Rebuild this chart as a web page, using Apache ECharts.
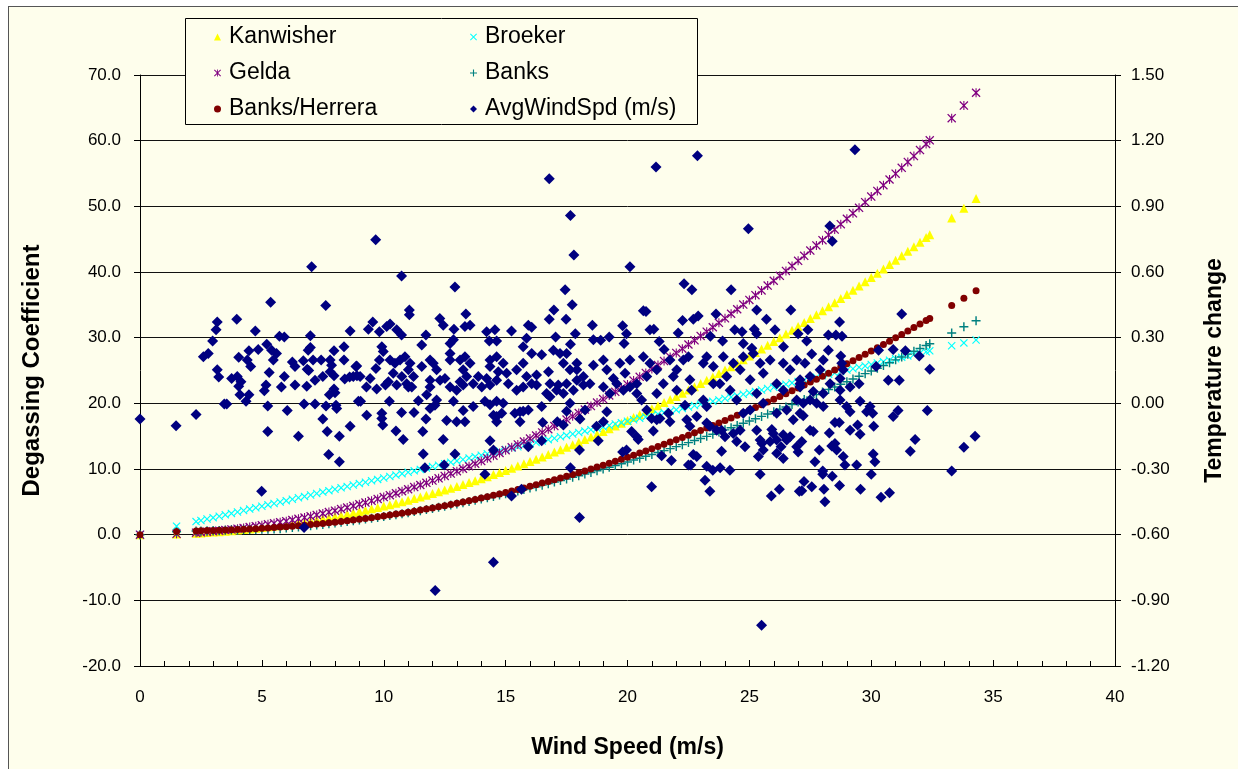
<!DOCTYPE html>
<html>
<head>
<meta charset="utf-8">
<title>Degassing Coefficient vs Wind Speed</title>
<script src="https://cdn.jsdelivr.net/npm/echarts/dist/echarts.min.js"></script>
<style>
  html, body { margin: 0; padding: 0; background: #ffffff; width: 1238px; height: 769px; overflow: hidden; }
  #frame { position: absolute; left: 8px; top: 6px; width: 1240px; height: 780px; background: #FEFEEC;
           border-left: 1px solid #555; border-top: 1px solid #555; }
  #chart { position: absolute; left: 0; top: 0; width: 1238px; height: 769px; }
</style>
</head>
<body>
<div id="frame"></div>
<div id="chart"></div>
<script>
// Wind speeds (m/s) at which the degassing formulas are tabulated
const windGrid = [0, 1.5, 2.3, 2.5, 2.75,
  3, 3.25, 3.5, 3.75,  4, 4.25, 4.5, 4.75,  5, 5.25, 5.5, 5.75,  6, 6.25, 6.5, 6.75,
  7, 7.25, 7.5, 7.75,  8, 8.25, 8.5, 8.75,  9, 9.25, 9.5, 9.75,  10, 10.25, 10.5, 10.75,
  11, 11.25, 11.5, 11.75,  12, 12.25, 12.5, 12.75,  13, 13.25, 13.5, 13.75,  14, 14.25, 14.5, 14.75,
  15, 15.25, 15.5, 15.75,  16, 16.25, 16.5, 16.75,  17, 17.25, 17.5, 17.75,  18, 18.25, 18.5, 18.75,
  19, 19.25, 19.5, 19.75,  20, 20.25, 20.5, 20.75,  21, 21.25, 21.5, 21.75,  22, 22.25, 22.5, 22.75,
  23, 23.25, 23.5, 23.75,  24, 24.25, 24.5, 24.75,  25, 25.25, 25.5, 25.75,  26, 26.25, 26.5, 26.75,
  27, 27.25, 27.5, 27.75,  28, 28.25, 28.5, 28.75,  29, 29.25, 29.5, 29.75,  30, 30.25, 30.5, 30.75,
  31, 31.25, 31.5, 31.75,  32, 32.25, 32.4, 33.3, 33.8, 34.3];

// Degassing coefficient by formula, one value per wind speed above
const kanwisher = [0, 0.10, 0.23, 0.27, 0.33,
  0.39, 0.46, 0.53, 0.61,  0.70, 0.79, 0.88, 0.98,  1.09, 1.20, 1.32, 1.44,  1.57, 1.70, 1.84, 1.98,
  2.13, 2.29, 2.45, 2.61,  2.78, 2.96, 3.14, 3.33,  3.52, 3.72, 3.93, 4.14,  4.35, 4.57, 4.80, 5.03,
  5.26, 5.51, 5.75, 6.01,  6.26, 6.53, 6.80, 7.07,  7.35, 7.64, 7.93, 8.22,  8.53, 8.83, 9.15, 9.46,
  9.79, 10.12, 10.45, 10.79,  11.14, 11.49, 11.84, 12.20,  12.57, 12.94, 13.32, 13.71,  14.09, 14.49, 14.89, 15.29,
  15.70, 16.12, 16.54, 16.97,  17.40, 17.84, 18.28, 18.73,  19.18, 19.64, 20.11, 20.58,  21.05, 21.54, 22.02, 22.51,
  23.01, 23.51, 24.02, 24.54,  25.06, 25.58, 26.11, 26.65,  27.19, 27.73, 28.29, 28.84,  29.41, 29.97, 30.55, 31.13,
  31.71, 32.30, 32.90, 33.50,  34.10, 34.72, 35.33, 35.96,  36.58, 37.22, 37.86, 38.50,  39.15, 39.81, 40.47, 41.13,
  41.80, 42.48, 43.16, 43.85,  44.54, 45.24, 45.66, 48.24, 49.70, 51.18];

const broeker = [0, 1.30, 1.99, 2.16, 2.38,
  2.59, 2.81, 3.02, 3.24,  3.46, 3.67, 3.89, 4.10,  4.32, 4.54, 4.75, 4.97,  5.18, 5.40, 5.62, 5.83,
  6.05, 6.26, 6.48, 6.70,  6.91, 7.13, 7.34, 7.56,  7.78, 7.99, 8.21, 8.42,  8.64, 8.86, 9.07, 9.29,
  9.50, 9.72, 9.94, 10.15,  10.37, 10.58, 10.80, 11.02,  11.23, 11.45, 11.66, 11.88,  12.10, 12.31, 12.53, 12.74,
  12.96, 13.18, 13.39, 13.61,  13.82, 14.04, 14.26, 14.47,  14.69, 14.90, 15.12, 15.34,  15.55, 15.77, 15.98, 16.20,
  16.42, 16.63, 16.85, 17.06,  17.28, 17.50, 17.71, 17.93,  18.14, 18.36, 18.58, 18.79,  19.01, 19.22, 19.44, 19.66,
  19.87, 20.09, 20.30, 20.52,  20.74, 20.95, 21.17, 21.38,  21.60, 21.82, 22.03, 22.25,  22.46, 22.68, 22.90, 23.11,
  23.33, 23.54, 23.76, 23.98,  24.19, 24.41, 24.62, 24.84,  25.06, 25.27, 25.49, 25.70,  25.92, 26.14, 26.35, 26.57,
  26.78, 27.00, 27.22, 27.43,  27.65, 27.86, 27.99, 28.77, 29.20, 29.64];

const gelda = [0, 0.13, 0.30, 0.36, 0.43,
  0.51, 0.60, 0.70, 0.80,  0.92, 1.03, 1.16, 1.29,  1.43, 1.58, 1.73, 1.89,  2.06, 2.23, 2.42, 2.61,
  2.80, 3.01, 3.22, 3.44,  3.66, 3.89, 4.13, 4.38,  4.63, 4.89, 5.16, 5.44,  5.72, 6.01, 6.31, 6.61,
  6.92, 7.24, 7.56, 7.90,  8.24, 8.58, 8.94, 9.30,  9.67, 10.04, 10.42, 10.81,  11.21, 11.62, 12.03, 12.44,
  12.87, 13.30, 13.74, 14.19,  14.64, 15.10, 15.57, 16.05,  16.53, 17.02, 17.52, 18.02,  18.53, 19.05, 19.58, 20.11,
  20.65, 21.20, 21.75, 22.31,  22.88, 23.46, 24.04, 24.63,  25.23, 25.83, 26.44, 27.06,  27.68, 28.32, 28.96, 29.60,
  30.26, 30.92, 31.59, 32.26,  32.95, 33.64, 34.33, 35.04,  35.75, 36.47, 37.19, 37.93,  38.67, 39.41, 40.17, 40.93,
  41.70, 42.47, 43.26, 44.05,  44.84, 45.65, 46.46, 47.28,  48.11, 48.94, 49.78, 50.63,  51.48, 52.34, 53.21, 54.09,
  54.97, 55.86, 56.76, 57.66,  58.57, 59.49, 60.05, 63.43, 65.35, 67.30];

const banks = [0, 0.44, 0.55, 0.57, 0.60,
  0.63, 0.65, 0.68, 0.70,  0.72, 0.75, 0.77, 0.79,  0.81, 0.83, 0.85, 0.92,  1.00, 1.08, 1.17, 1.26,
  1.36, 1.46, 1.56, 1.66,  1.77, 1.89, 2.00, 2.12,  2.24, 2.37, 2.50, 2.63,  2.77, 2.91, 3.05, 3.20,
  3.35, 3.51, 3.66, 3.82,  3.99, 4.16, 4.33, 4.50,  4.68, 4.86, 5.05, 5.24,  5.43, 5.62, 5.82, 6.03,
  6.23, 6.44, 6.65, 6.87,  7.09, 7.31, 7.54, 7.77,  8.01, 8.24, 8.48, 8.73,  8.97, 9.23, 9.48, 9.74,
  10.00, 10.26, 10.53, 10.80,  11.08, 11.36, 11.64, 11.93,  12.22, 12.51, 12.80, 13.10,  13.41, 13.71, 14.02, 14.34,
  14.65, 14.97, 15.30, 15.62,  15.96, 16.29, 16.63, 16.97,  17.31, 17.66, 18.01, 18.37,  18.73, 19.09, 19.45, 19.82,
  20.19, 20.57, 20.95, 21.33,  21.72, 22.11, 22.50, 22.90,  23.30, 23.70, 24.11, 24.52,  24.93, 25.35, 25.77, 26.19,
  26.62, 27.05, 27.49, 27.92,  28.36, 28.81, 29.08, 30.72, 31.65, 32.59];

const banksHerrera = [0, 0.50, 0.57, 0.59, 0.62,
  0.64, 0.68, 0.71, 0.74,  0.78, 0.83, 0.87, 0.92,  0.97, 1.03, 1.09, 1.15,  1.22, 1.29, 1.37, 1.45,
  1.53, 1.62, 1.71, 1.80,  1.90, 2.01, 2.12, 2.23,  2.34, 2.47, 2.59, 2.72,  2.85, 2.99, 3.13, 3.28,
  3.43, 3.58, 3.74, 3.91,  4.07, 4.25, 4.42, 4.60,  4.79, 4.98, 5.18, 5.37,  5.58, 5.79, 6.00, 6.21,
  6.43, 6.66, 6.89, 7.12,  7.36, 7.61, 7.85, 8.11,  8.36, 8.62, 8.89, 9.16,  9.44, 9.71, 10.00, 10.29,
  10.58, 10.88, 11.18, 11.48,  11.80, 12.11, 12.43, 12.76,  13.08, 13.42, 13.76, 14.10,  14.45, 14.80, 15.15, 15.51,
  15.88, 16.25, 16.62, 17.00,  17.39, 17.77, 18.17, 18.56,  18.97, 19.37, 19.78, 20.20,  20.62, 21.04, 21.47, 21.90,
  22.34, 22.79, 23.23, 23.68,  24.14, 24.60, 25.07, 25.54,  26.01, 26.49, 26.98, 27.46,  27.96, 28.46, 28.96, 29.46,
  29.98, 30.49, 31.01, 31.54,  32.07, 32.60, 32.92, 34.90, 36.02, 37.16];

// Observed average wind speed (m/s) and the temperature change recorded with it
const avgWindSpd = [
  [0.00,-0.072],[1.48,-0.102],[2.30,-0.051],[2.60,0.213],[2.80,0.228],[2.98,0.285],[3.12,0.336],[3.17,0.372],
  [3.17,0.153],[3.23,0.120],[3.46,-0.003],[3.56,-0.003],[3.76,0.114],[3.97,0.384],[3.99,0.123],[4.05,0.210],
  [4.05,0.078],[4.10,0.039],[4.14,0.099],[4.35,0.009],[4.40,0.198],[4.47,0.240],[4.47,0.039],[4.54,0.168],
  [4.73,0.330],[4.85,0.246],[4.99,-0.402],[5.10,0.057],[5.17,0.084],[5.20,0.270],[5.24,-0.012],[5.24,-0.129],
  [5.30,0.141],[5.36,0.462],[5.40,0.243],[5.47,0.198],[5.60,0.228],[5.72,0.306],[5.80,0.075],[5.92,0.303],
  [5.92,0.123],[6.04,-0.033],[6.25,0.189],[6.36,0.168],[6.36,0.084],[6.50,-0.150],[6.70,0.195],[6.73,-0.003],
  [6.73,-0.567],[6.84,0.078],[6.86,0.156],[6.90,0.243],[6.92,0.150],[6.99,0.309],[6.99,0.255],[7.04,0.624],
  [7.10,0.198],[7.18,0.105],[7.18,-0.003],[7.43,0.198],[7.50,0.123],[7.50,-0.072],[7.62,0.447],[7.63,-0.012],
  [7.68,-0.129],[7.74,-0.234],[7.77,0.039],[7.80,0.198],[7.80,0.144],[7.86,0.174],[7.96,0.240],[7.96,0.126],
  [7.96,0.066],[8.00,0.048],[8.04,-0.009],[8.07,-0.024],[8.18,-0.150],[8.18,-0.267],[8.37,0.258],[8.37,0.198],
  [8.40,0.111],[8.60,0.120],[8.62,0.330],[8.62,-0.105],[8.86,0.168],[8.90,0.126],[8.96,0.009],
  [9.05,0.009],[9.30,-0.054],[9.37,0.339],[9.55,0.372],[9.67,0.747],[9.82,0.327],[9.92,-0.045],[9.92,-0.069],
  [9.96,-0.099],[10.12,0.351],[10.23,0.009],[10.26,0.363],[10.50,-0.126],[10.53,0.336],[10.73,0.582],[10.73,0.312],
  [10.73,-0.042],[10.80,-0.165],[11.05,0.426],[11.05,0.405],[11.24,-0.042],[11.42,0.012],[11.56,0.267],[11.60,-0.129],
  [11.62,-0.231],[11.69,-0.294],[11.73,0.312],[11.73,-0.072],[11.90,-0.024],[12.10,-0.009],[12.11,-0.855],[12.30,0.387],
  [12.44,0.357],[12.44,-0.165],[12.48,-0.282],[12.58,-0.078],[12.72,0.273],[12.86,0.291],[12.88,0.339],[12.92,0.531],
  [12.92,-0.231],[12.99,-0.084],[13.26,-0.033],[13.33,0.351],[13.33,-0.084],[13.37,0.408],[13.54,0.357],[13.67,-0.015],
  [14.15,0.009],[14.15,-0.324],[14.22,0.327],[14.33,0.285],[14.36,-0.006],[14.36,-0.171],[14.50,-0.054],[14.50,-0.213],
  [14.50,-0.726],[14.56,0.336],[14.63,0.285],[14.63,0.009],[14.63,-0.084],[14.84,-0.045],[14.90,0.000],[15.24,0.330],
  [15.24,-0.423],[15.38,-0.045],[15.59,-0.084],[15.65,-0.393],[15.72,0.258],[15.72,-0.036],[15.86,0.297],[15.93,0.357],
  [15.93,-0.030],[15.93,-0.198],[16.07,0.348],[16.48,-0.015],[16.48,-0.171],[16.52,-0.087],[16.79,1.026],[16.79,0.384],
  [16.98,0.426],[17.05,0.303],[17.12,-0.084],[17.37,-0.099],[17.44,0.519],[17.48,0.384],[17.50,-0.036],[17.64,0.000],
  [17.66,0.858],[17.66,0.270],[17.66,-0.294],[17.73,0.450],[17.80,0.678],[17.86,0.318],[18.03,-0.213],[18.03,-0.522],
  [8.89,0.171],[8.75,0.123],[9.03,0.123],[9.68,0.159],[9.44,0.114],[9.92,0.258],[9.98,0.237],[9.82,0.198],
  [10.26,0.198],[10.46,0.183],[10.67,0.198],[10.87,0.213],[11.08,0.183],[11.01,0.153],[10.74,0.123],[10.39,0.138],
  [10.19,0.099],[10.53,0.084],[10.94,0.090],[11.22,0.123],[11.15,0.075],[11.56,0.168],[11.90,0.198],[12.03,0.183],
  [12.17,0.153],[11.90,0.105],[12.31,0.105],[12.51,0.114],[12.72,0.228],[12.72,0.198],[13.13,0.198],[13.33,0.213],
  [13.54,0.183],[13.26,0.153],[13.40,0.123],[13.13,0.099],[13.67,0.090],[13.88,0.123],[14.36,0.198],[14.63,0.213],
  [14.90,0.183],[14.36,0.168],[14.70,0.144],[15.04,0.138],[14.22,0.114],[14.63,0.105],[15.11,0.090],[15.45,0.153],
  [15.72,0.183],[15.86,0.123],[16.07,0.090],[16.27,0.129],[16.07,0.228],[16.48,0.222],[16.76,0.144],[16.96,0.243],
  [17.23,0.228],[17.50,0.228],[17.37,0.183],[17.64,0.153],[17.92,0.183],[16.82,0.090],[17.16,0.084],[17.50,0.090],
  [17.92,0.105],[9.29,0.075],[9.71,0.066],[10.07,0.084],[11.01,0.075],[11.90,0.075],[12.72,0.075],[12.99,0.060],
  [13.26,0.084],[14.02,0.075],[14.36,0.084],[15.45,0.060],[15.72,0.075],[16.27,0.084],[11.76,0.039],[12.17,0.015],
  [12.86,0.009],[14.63,-0.060],[15.59,-0.039],[16.68,0.045],[16.82,0.030],[17.09,0.060],[17.37,0.045],
  [21.17,1.080],[22.87,1.131],[20.10,0.624],[24.96,0.798],[22.32,0.546],[22.64,0.519],[24.25,0.519],[20.65,0.423],
  [20.76,0.420],[18.56,0.357],[19.80,0.354],[19.96,0.318],[20.92,0.336],[21.08,0.339],[22.26,0.378],[22.70,0.384],
  [22.90,0.399],[23.63,0.408],[25.30,0.426],[25.70,0.384],[26.70,0.426],[24.40,0.336],[24.70,0.327],[25.20,0.339],
  [25.30,0.318],[26.05,0.336],[22.08,0.321],[18.60,0.291],[18.90,0.288],[19.25,0.303],[19.86,0.273],[21.30,0.282],
  [21.50,0.246],[23.40,0.306],[23.90,0.285],[26.40,0.258],[24.75,0.273],[25.10,0.252],
  [17.92,0.153],[18.19,0.123],[18.60,0.174],[19.01,0.198],[19.15,0.153],[19.42,0.114],[18.46,0.090],[19.01,0.075],
  [19.69,0.183],[19.90,0.138],[20.10,0.198],[20.38,0.090],[20.65,0.213],[20.92,0.183],[20.79,0.123],[21.20,0.153],
  [21.47,0.090],[21.74,0.198],[21.88,0.123],[22.02,0.153],[22.29,0.198],[22.56,0.108],[22.50,0.213],[23.11,0.183],
  [23.25,0.213],[23.52,0.168],[23.79,0.090],[23.93,0.213],[24.07,0.123],[24.34,0.183],[24.62,0.153],[24.75,0.213],
  [25.03,0.108],[25.16,0.228],[25.44,0.183],[25.57,0.138],[25.85,0.198],[26.12,0.090],[26.39,0.183],[26.67,0.153],
  [26.94,0.198],[27.08,0.108],
  [25.50,-1.014],[20.99,-0.381],[23.18,-0.351],[23.38,-0.402],[25.44,-0.324],[25.90,-0.423],[26.23,-0.393],[27.05,-0.402],
  [24.20,-0.306],[23.80,-0.294],[23.50,-0.306],[23.25,-0.288],[22.50,-0.282],[22.60,-0.282],[21.80,-0.261],[21.40,-0.240],
  [19.80,-0.222],[19.96,-0.213],[23.86,-0.219],[22.70,-0.234],[22.84,-0.243],[25.37,-0.243],[25.57,-0.213],[25.51,-0.183],
  [25.44,-0.168],[26.12,-0.228],[26.39,-0.252],[26.30,-0.198],[26.53,-0.168],[26.12,-0.168],[25.85,-0.174],[25.98,-0.138],
  [25.92,-0.120],[26.39,-0.144],[26.67,-0.153],[25.30,-0.123],[24.82,-0.198],[24.48,-0.174],[24.34,-0.138],[24.62,-0.123],
  [18.80,-0.171],[20.17,-0.129],[20.38,-0.153],[20.44,-0.165],[21.06,-0.126],[21.33,-0.069],[21.74,-0.084],[21.68,-0.045],
  [21.20,-0.075],[24.00,-0.153],[23.86,-0.123],[23.66,-0.123],[23.38,-0.105],[23.25,-0.090],[18.05,-0.072],[18.26,-0.030],
  [18.73,-0.105],[19.01,-0.084],[19.15,-0.039],[22.43,-0.075],[22.56,-0.105],[22.84,-0.060],[23.25,-0.015],[22.36,-0.009],
  [17.78,0.060],[18.19,0.084],[19.28,0.045],[19.56,0.090],[19.83,0.060],[20.10,0.075],[20.38,0.045],[20.58,0.015],
  [20.79,-0.030],[20.99,-0.069],[21.20,0.045],[22.02,0.060],[22.63,0.060],[23.11,0.015],[23.52,0.090],[24.21,0.060],
  [24.48,0.015],[24.75,-0.045],[25.03,-0.030],[25.30,0.045],[25.57,0.000],[26.12,-0.045],[26.53,-0.030],[26.39,0.060],
  [26.94,0.015],[26.80,-0.075],[27.08,-0.045],
  [29.33,1.158],[28.30,0.810],[28.40,0.741],[31.25,0.408],[28.70,0.372],[27.40,0.336],[27.00,0.318],[27.35,0.285],
  [28.24,0.312],[28.55,0.312],[28.80,0.306],[27.56,0.225],[28.24,0.243],[28.75,0.216],[30.30,0.243],[30.90,0.246],
  [31.40,0.240],[31.97,0.216],[32.40,0.156],[27.28,0.183],[28.03,0.198],[27.90,0.153],[28.79,0.183],[28.85,0.153],
  [30.20,0.168],[30.70,0.105],[31.15,0.105],[29.50,0.090],[27.49,0.123],[27.08,0.090],[28.31,0.090],[28.72,0.114],
  [32.30,-0.033],[34.26,-0.150],[33.80,-0.201],[33.30,-0.309],[31.80,-0.165],[31.60,-0.219],[31.10,-0.033],[30.90,-0.060],
  [30.75,-0.408],[30.40,-0.429],[29.56,-0.393],[30.00,-0.324],[30.08,-0.231],[30.15,-0.267],[29.40,-0.282],[30.10,-0.105],
  [29.54,-0.141],[29.44,-0.099],[29.13,-0.123],[30.06,-0.045],[29.95,-0.015],[29.81,-0.039],[28.92,-0.282],[28.85,-0.243],
  [28.70,-0.375],[28.40,-0.333],[28.10,-0.450],[28.06,-0.393],[28.01,-0.309],[28.01,-0.324],[27.69,-0.267],[27.87,-0.213],
  [27.24,-0.357],[27.56,-0.381],[27.15,-0.399],[28.38,-0.195],[28.58,-0.213],[28.51,-0.183],[28.28,-0.135],[28.51,-0.087],
  [28.69,-0.087],[27.49,-0.123],[27.62,-0.129],[27.21,-0.057],[26.94,-0.198],[27.00,-0.222],[27.15,-0.174],[27.21,0.000],
  [27.49,0.015],[27.76,0.000],[28.03,-0.015],[28.72,0.015],[28.99,-0.015],[29.13,-0.039],[29.54,0.009],[27.08,0.075],
  [27.62,0.054],[28.03,0.045],[28.72,0.060],[29.13,0.075]
];

// Axis ranges and tick steps
const xRange = { min: 0, max: 40, step: 5 };
const coefRange = { min: -20, max: 70, step: 10 };
const tempRange = { min: -1.2, max: 1.5, step: 0.3 };

const FONT = "'Liberation Sans', Arial, Helvetica, sans-serif";
const CROSS = 'path://M1,0L5,4L9,0L10,1L6,5L10,9L9,10L5,6L1,10L0,9L4,5L0,1Z';
const STAR = 'path://M1,0L5,4L9,0L10,1L6,5L10,9L9,10L5,6L1,10L0,9L4,5L0,1Z M4.4,0H5.6V10H4.4Z';
const PLUS = 'path://M4.2,0H5.8V4.2H10V5.8H5.8V10H4.2V5.8H0V4.2H4.2Z';

const pairs = vals => windGrid.map((u, i) => [u, vals[i]]);

function curveSeries(name, vals, symbol, size, color) {
  return {
    name, type: 'scatter', yAxisIndex: 0, data: pairs(vals),
    symbol, symbolSize: size, itemStyle: { color, opacity: 1 },
    emphasis: { disabled: true }, z: 2
  };
}

const chart = echarts.init(document.getElementById('chart'), null, { renderer: 'canvas' });

const legendCommon = {
  orient: 'vertical', top: 20, itemWidth: 7, itemHeight: 7, itemGap: 12,
  selectedMode: false,
  textStyle: { fontFamily: FONT, fontSize: 23, color: '#000', lineHeight: 24, padding: [0, 0, 0, 3] }
};

chart.setOption({
  animation: false,
  backgroundColor: 'transparent',
  textStyle: { fontFamily: FONT },
  grid: { left: 140, right: 123, top: 75, bottom: 103 },
  graphic: [{
    type: 'rect', left: 185, top: 18, z: 3,
    shape: { width: 512, height: 106 },
    style: { fill: '#FEFEEC', stroke: '#000', lineWidth: 1 }
  }],
  legend: [
    Object.assign({ left: 209, data: ['Kanwisher', 'Gelda', 'Banks/Herrera'] }, legendCommon),
    Object.assign({ left: 465, data: ['Broeker', 'Banks', 'AvgWindSpd (m/s)'] }, legendCommon)
  ],
  xAxis: {
    type: 'value', min: xRange.min, max: xRange.max, interval: xRange.step,
    name: 'Wind Speed (m/s)', nameLocation: 'middle', nameGap: 70,
    nameTextStyle: { fontFamily: FONT, fontWeight: 'bold', fontSize: 23, color: '#000' },
    axisLine: { onZero: false, lineStyle: { color: '#000', width: 1 } },
    axisTick: { inside: true, length: 6, lineStyle: { color: '#000' } },
    minorTick: { show: true, splitNumber: 5, length: 5, lineStyle: { color: '#000' } },
    axisLabel: { margin: 23, fontFamily: FONT, fontSize: 17, color: '#000' },
    splitLine: { show: false }
  },
  yAxis: [{
    type: 'value', position: 'left',
    min: coefRange.min, max: coefRange.max, interval: coefRange.step,
    name: 'Degassing Coefficient', nameLocation: 'middle', nameRotate: 90, nameGap: 96,
    nameTextStyle: { fontFamily: FONT, fontWeight: 'bold', fontSize: 24, color: '#000' },
    axisLine: { show: true, onZero: false, lineStyle: { color: '#000', width: 1 } },
    axisTick: { show: true, inside: false, length: 6, lineStyle: { color: '#000' } },
    axisLabel: { margin: 19, fontFamily: FONT, fontSize: 17, color: '#000',
                 formatter: v => v.toFixed(1) },
    splitLine: { show: true, lineStyle: { color: '#111', width: 1 } }
  }, {
    type: 'value', position: 'right',
    min: tempRange.min, max: tempRange.max, interval: tempRange.step,
    name: 'Temperature change', nameLocation: 'middle', nameRotate: 90, nameGap: 88,
    nameTextStyle: { fontFamily: FONT, fontWeight: 'bold', fontSize: 23, color: '#000' },
    axisLine: { show: true, onZero: false, lineStyle: { color: '#000', width: 1 } },
    axisTick: { show: true, inside: false, length: 6, lineStyle: { color: '#000' } },
    axisLabel: { margin: 16, fontFamily: FONT, fontSize: 17, color: '#000',
                 formatter: v => v.toFixed(2) },
    splitLine: { show: false }
  }],
  series: [
    curveSeries('Kanwisher', kanwisher, 'triangle', 9, '#FFFF00'),
    curveSeries('Broeker', broeker, CROSS, 8, '#00FFFF'),
    curveSeries('Gelda', gelda, STAR, 9, '#800080'),
    curveSeries('Banks', banks, PLUS, 9, '#008080'),
    curveSeries('Banks/Herrera', banksHerrera, 'circle', 7, '#800000'),
    {
      name: 'AvgWindSpd (m/s)', type: 'scatter', yAxisIndex: 1, data: avgWindSpd,
      symbol: 'diamond', symbolSize: 11, itemStyle: { color: '#000080', opacity: 1 },
      emphasis: { disabled: true }, z: 3
    }
  ]
});
</script>
</body>
</html>
